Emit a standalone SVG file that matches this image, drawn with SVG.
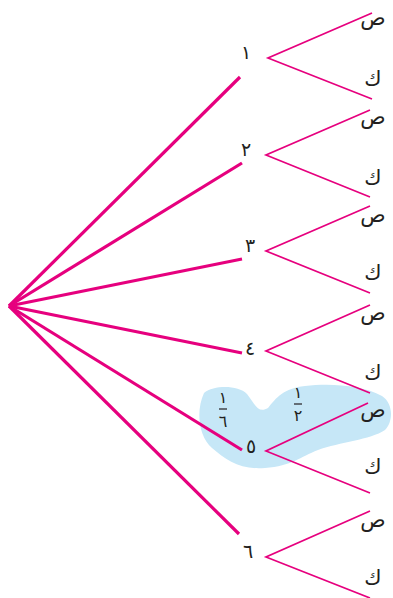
<svg xmlns="http://www.w3.org/2000/svg" width="393" height="598" viewBox="0 0 393 598">
<style>
.main{stroke:#e6007e;stroke-width:3.2;fill:none;stroke-linecap:butt}
.br{stroke:#e6007e;stroke-width:1.7;fill:none}
.t{font-family:"DejaVu Sans",sans-serif;font-size:21px;fill:#231f20;text-anchor:middle}
.n{font-family:"DejaVu Sans",sans-serif;font-size:19px;fill:#231f20;text-anchor:middle}
.f{font-family:"DejaVu Sans",sans-serif;font-size:16px;fill:#231f20;text-anchor:middle}
.bar{stroke:#231f20;stroke-width:1.2}
</style>
<path id="blob" d="M204,393 C214,385 238,385 247,394 C255,404 258,414 268,408 C276,398 284,388 305,386 C330,383 362,385 382,396 C394,404 393,422 385,430 C370,440 340,442 318,450 C300,457 292,466 265,468 C240,470 226,460 212,448 C198,436 196,410 204,393 Z" fill="#c6e7f7"/>
<g id="connectors">
<line class="main" x1="9" y1="306" x2="240" y2="77"/>
<line class="main" x1="9" y1="306" x2="242" y2="163"/>
<line class="main" x1="9" y1="306" x2="242" y2="259"/>
<line class="main" x1="9" y1="306" x2="242" y2="353"/>
<line class="main" x1="9" y1="306" x2="242" y2="450"/>
<line class="main" x1="9" y1="306" x2="239" y2="534"/>
<polyline class="br" points="372,13 268,58 372,99"/>
<polyline class="br" points="370,110 266,155 370,197"/>
<polyline class="br" points="370,206 266,251 370,293"/>
<polyline class="br" points="370,305 266,351 370,393"/>
<polyline class="br" points="368,403 266,451 370,493"/>
<polyline class="br" points="370,511 266,557 370,598"/>
</g>
<g id="n1"><text class="n" x="246" y="59">١</text><text class="t" x="373" y="25">ص</text><text class="t" x="373" y="86">ك</text></g>
<g id="n2"><text class="n" x="246" y="156">٢</text><text class="t" x="373" y="124">ص</text><text class="t" x="373" y="185">ك</text></g>
<g id="n3"><text class="n" x="250" y="252">٣</text><text class="t" x="373" y="222">ص</text><text class="t" x="373" y="280">ك</text></g>
<g id="n4"><text class="n" x="250" y="355">٤</text><text class="t" x="373" y="320">ص</text><text class="t" x="373" y="380">ك</text></g>
<g id="n5"><text class="n" x="251" y="453">٥</text><text class="t" x="373" y="417">ص</text><text class="t" x="373" y="474">ك</text></g>
<g id="n6"><text class="n" x="248" y="558">٦</text><text class="t" x="373" y="527">ص</text><text class="t" x="373" y="585">ك</text></g>
<g id="frac1"><text class="f" x="223" y="403">١</text><line class="bar" x1="219" y1="409" x2="227" y2="409"/><text class="f" x="223" y="427">٦</text></g>
<g id="frac2"><text class="f" x="298" y="398">١</text><line class="bar" x1="294" y1="404" x2="302" y2="404"/><text class="f" x="298" y="421">٢</text></g>
</svg>
